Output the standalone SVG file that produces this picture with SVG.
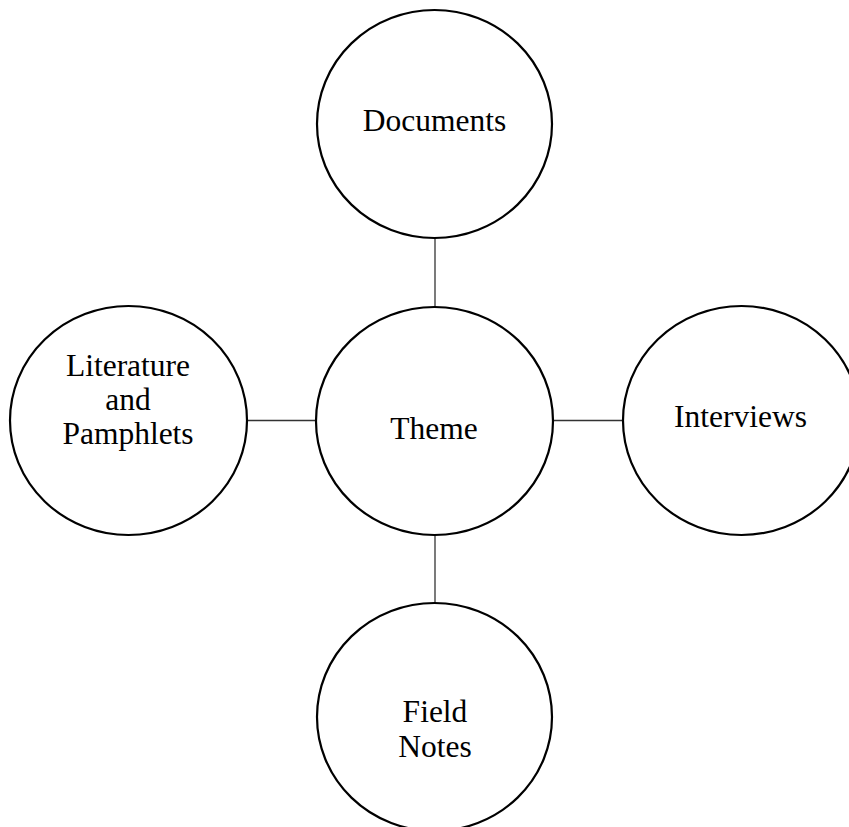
<svg xmlns="http://www.w3.org/2000/svg" width="849" height="827" viewBox="0 0 849 827">
<style>
.node{fill:#fff;stroke:#000;stroke-width:2.2}
.lbl{font-family:"Liberation Serif","Times New Roman",serif;font-size:31.5px;fill:#000;text-anchor:middle}
.conn{stroke:#333;stroke-width:1.3;fill:none}
</style>
<rect width="849" height="827" fill="#fff"/>
<g id="connectors">
<line class="conn" x1="435" y1="238" x2="435" y2="307"/>
<line class="conn" x1="247" y1="420.5" x2="316" y2="420.5"/>
<line class="conn" x1="553" y1="420.5" x2="623" y2="420.5"/>
<line class="conn" x1="435" y1="535" x2="435" y2="603"/>
</g>
<g id="documents">
<ellipse class="node" cx="434.5" cy="124" rx="117.5" ry="114"/>
<text class="lbl" x="434.5" y="131">Documents</text>
</g>
<g id="theme">
<ellipse class="node" cx="434.5" cy="421" rx="118.5" ry="114"/>
<text class="lbl" x="434" y="439">Theme</text>
</g>
<g id="literature">
<ellipse class="node" cx="128.5" cy="420.5" rx="118.5" ry="114.5"/>
<text class="lbl" x="128" y="376">Literature</text>
<text class="lbl" x="128" y="410">and</text>
<text class="lbl" x="128" y="444">Pamphlets</text>
</g>
<g id="interviews">
<ellipse class="node" cx="741.5" cy="420.5" rx="118.5" ry="114.5"/>
<text class="lbl" x="740.5" y="427">Interviews</text>
</g>
<g id="fieldnotes">
<ellipse class="node" cx="434.5" cy="717" rx="117.5" ry="114"/>
<text class="lbl" x="435" y="722">Field</text>
<text class="lbl" x="435" y="757">Notes</text>
</g>
</svg>
